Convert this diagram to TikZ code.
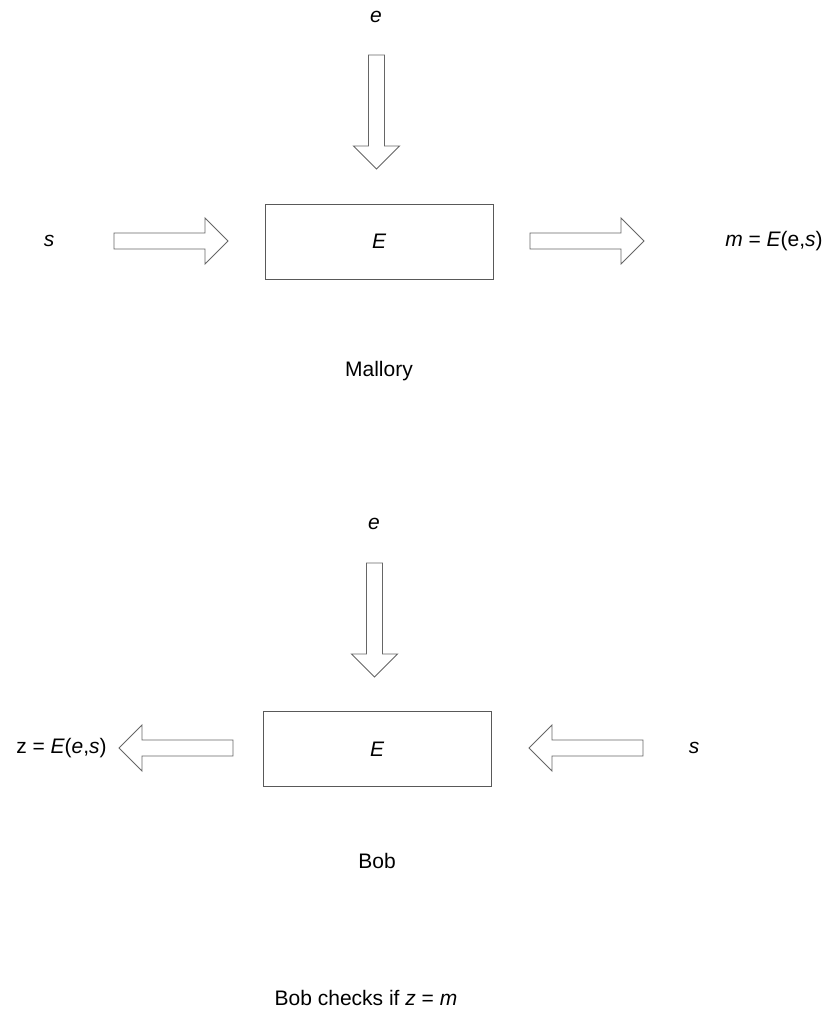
\documentclass[tikz,border=0pt]{standalone}
\usepackage{fontspec}
\setmainfont{Liberation Sans}
\begin{document}
\begin{tikzpicture}[x=1pt,y=-1pt,
  every node/.style={font=\fontsize{21}{25}\selectfont, inner sep=0pt},
  box/.style={draw=black!65, line width=1pt, minimum width=228pt, minimum height=75pt},
  lbl/.style={},
  blockarrow/.pic={
    \draw[draw=black!60, fill=white, line width=0.9pt, line join=miter]
      (0pt,-8pt) -- (91pt,-8pt) -- (91pt,-23pt) -- (114pt,0pt)
      -- (91pt,23pt) -- (91pt,8pt) -- (0pt,8pt) -- cycle;
  }]
\useasboundingbox (0,0) rectangle (828,1011);

% Mallory's computation
\node[lbl] (e1) at (376,17) {\itshape e};
\node[box] (E1) at (379,241.5) {\itshape E};
\node[lbl] (s1) at (49,241) {\itshape s};
\node[lbl] (m1) at (774,241) {\itshape m\upshape\ = \itshape E\upshape(e,\itshape s\upshape)};
\node[lbl] (mal) at (379,371) {Mallory};
\pic[rotate=-90] at (376.5,55) {blockarrow};
\pic at (114,241) {blockarrow};
\pic at (530,241) {blockarrow};

% Bob's computation
\node[lbl] (e2) at (374,524) {\itshape e};
\node[box] (E2) at (377,749) {\itshape E};
\node[lbl] (s2) at (694,748) {\itshape s};
\node[lbl] (z2) at (61.5,748) {z = \itshape E\upshape(\itshape e\upshape,\itshape s\upshape)};
\node[lbl] (bob) at (377,861) {Bob};
\pic[rotate=-90] at (374.5,563) {blockarrow};
\pic[rotate=180] at (233,748) {blockarrow};
\pic[rotate=180] at (643,748) {blockarrow};

\node[lbl] (chk) at (366,998) {Bob checks if \itshape z\upshape\ = \itshape m};
\end{tikzpicture}
\end{document}
